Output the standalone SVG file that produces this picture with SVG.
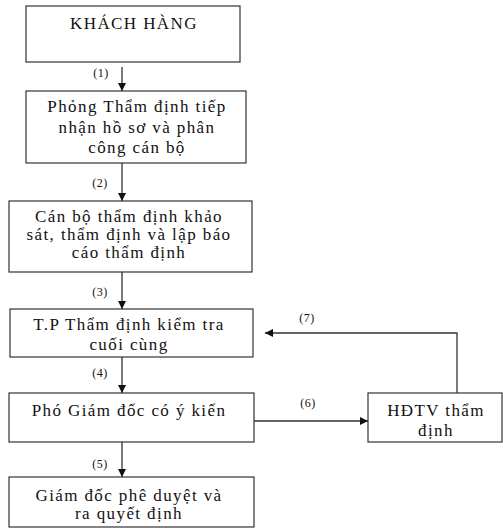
<svg xmlns="http://www.w3.org/2000/svg" width="503" height="528" viewBox="0 0 503 528">
<style>
.box{fill:#fff;stroke:#333;stroke-width:1.2}
.t{font-family:"Liberation Serif","DejaVu Serif",serif;font-size:17px;letter-spacing:1.4px;fill:#111;text-anchor:middle}
.l{font-family:"Liberation Serif","DejaVu Serif",serif;font-size:12px;letter-spacing:0.5px;fill:#111;text-anchor:middle}
.c{fill:none;stroke:#333;stroke-width:1.3}
</style>
<defs>
<marker id="ah" viewBox="0 0 10 10" refX="10" refY="5" markerWidth="8" markerHeight="8" markerUnits="userSpaceOnUse" orient="auto">
<path d="M0,0 L10,5 L0,10 z" fill="#111"/>
</marker>
</defs>
<rect width="503" height="528" fill="#fff"/>
<g id="connectors">
<line class="c" x1="122" y1="67" x2="122" y2="91" marker-end="url(#ah)"/>
<line class="c" x1="122" y1="163" x2="122" y2="201" marker-end="url(#ah)"/>
<line class="c" x1="122" y1="272" x2="122" y2="309" marker-end="url(#ah)"/>
<line class="c" x1="122" y1="357" x2="122" y2="393" marker-end="url(#ah)"/>
<line class="c" x1="122" y1="442" x2="122" y2="477" marker-end="url(#ah)"/>
<line class="c" x1="254" y1="421" x2="368" y2="421" marker-end="url(#ah)"/>
<polyline class="c" points="457,393 457,333 265,333" marker-end="url(#ah)"/>
<text class="l" x="101" y="77">(1)</text>
<text class="l" x="100" y="187">(2)</text>
<text class="l" x="100" y="296">(3)</text>
<text class="l" x="100" y="377">(4)</text>
<text class="l" x="100" y="468">(5)</text>
<text class="l" x="308" y="407">(6)</text>
<text class="l" x="307" y="322">(7)</text>
</g>
<g id="n1">
<rect class="box" x="26" y="6" width="214" height="56"/>
<text class="t" x="134" y="29" font-size="18" letter-spacing="1.8">KHÁCH HÀNG</text>
</g>
<g id="n2">
<rect class="box" x="26" y="91" width="220" height="72"/>
<text class="t" x="137" y="112">Phỏng Thẩm định tiếp</text>
<text class="t" x="137" y="133">nhận hồ sơ và phân</text>
<text class="t" x="137" y="153">công cán bộ</text>
</g>
<g id="n3">
<rect class="box" x="9" y="201" width="243" height="71"/>
<text class="t" x="129" y="222">Cán bộ thẩm định khảo</text>
<text class="t" x="129" y="240">sát, thẩm định và lập báo</text>
<text class="t" x="129" y="258">cáo thẩm định</text>
</g>
<g id="n4">
<rect class="box" x="10" y="309" width="243" height="48"/>
<text class="t" x="129" y="330">T.P Thẩm định kiểm tra</text>
<text class="t" x="129" y="350">cuối cùng</text>
</g>
<g id="n5">
<rect class="box" x="9" y="393" width="245" height="49"/>
<text class="t" x="129" y="416">Phó Giám đốc có ý kiến</text>
</g>
<g id="n6">
<rect class="box" x="9" y="477" width="245" height="50"/>
<text class="t" x="129" y="501">Giám đốc phê duyệt và</text>
<text class="t" x="129" y="519">ra quyết định</text>
</g>
<g id="n7">
<rect class="box" x="368" y="393" width="134" height="49"/>
<text class="t" x="436" y="416">HĐTV thẩm</text>
<text class="t" x="436" y="436">định</text>
</g>
</svg>
